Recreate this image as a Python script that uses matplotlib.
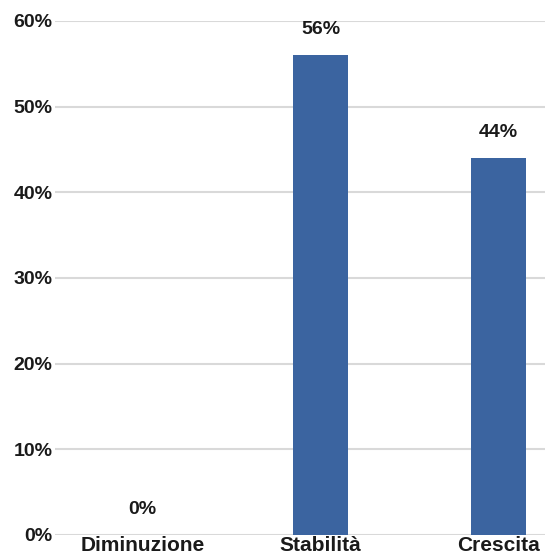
import matplotlib.pyplot as plt

categorie = ["Diminuzione", "Stabilità", "Crescita"]
percentuali = [0, 56, 44]
tick_y = [0, 10, 20, 30, 40, 50, 60]

plt.rcParams['font.family'] = ['Liberation Sans', 'DejaVu Sans']
plt.rcParams['font.weight'] = 'bold'

fig = plt.figure(figsize=(5.45, 5.57), dpi=100)
ax = fig.add_axes([0.101, 0.0395, 0.899, 0.9228])

x = list(range(len(categorie)))
ax.bar(x, percentuali, width=0.31, color='#3b64a0', zorder=3)

# etichette con il valore sopra ogni barra
for xi, v in zip(x, percentuali):
    ax.text(xi, v + 2.0, f"{v}%", ha='center', va='bottom', fontsize=14,
            fontweight='bold', color='#1a1a1a', clip_on=False)

ax.set_xlim(-0.49, 2.26)
ax.set_ylim(0, 60)
ax.set_yticks(tick_y)
ax.set_yticklabels([f"{t}%" for t in tick_y], fontsize=14, fontweight='bold', color='#1a1a1a')
ax.set_xticks(x)
ax.set_xticklabels(categorie, fontsize=15, fontweight='bold', color='#1a1a1a')

ax.yaxis.grid(True, color='#d9d9d9', linewidth=1.5, zorder=0)
for s in ax.spines.values():
    s.set_visible(False)
ax.tick_params(axis='both', length=0)
ax.tick_params(axis='y', pad=2)
ax.tick_params(axis='x', pad=1)

plt.savefig('out.png', dpi=100)
